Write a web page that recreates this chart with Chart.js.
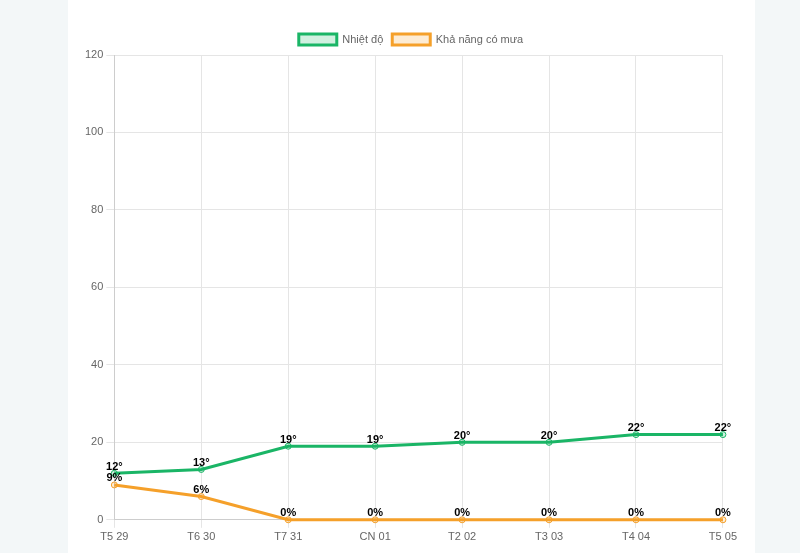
<!DOCTYPE html>
<html>
<head>
<meta charset="utf-8">
<script src="https://cdn.jsdelivr.net/npm/chart.js@4"></script>
<style>
  html, body { margin: 0; padding: 0; background: #f3f7f8; }
  #nen { position: absolute; left: 68px; top: 0; width: 687px; height: 553px; background: #fff; }
  #khung { position: absolute; left: 68px; top: 0; width: 672px; height: 553px; }
</style>
</head>
<body>
<div id="nen"></div>
<div id="khung"><canvas id="bieuDo"></canvas></div>
<script>
const ngay = ['T5 29', 'T6 30', 'T7 31', 'CN 01', 'T2 02', 'T3 03', 'T4 04', 'T5 05'];
const nhiet_do = [12, 13, 19, 19, 20, 20, 22, 22];
const kha_nang_mua = [9, 6, 0, 0, 0, 0, 0, 0];
const nhan_truc_y = [0, 20, 40, 60, 80, 100, 120];

Chart.defaults.font.family = "'Liberation Sans', Arial, sans-serif";
Chart.defaults.font.size = 11;
Chart.defaults.color = '#666';

// ve nhan tren moi diem
const nhanDiem = {
    id: 'nhanDiem',
    afterDatasetsDraw(chart) {
        const ctx = chart.ctx;
        ctx.save();
        ctx.font = "bold 11px 'Liberation Sans', Arial, sans-serif";
        ctx.fillStyle = '#000';
        ctx.textAlign = 'center';
        ctx.textBaseline = 'bottom';
        chart.data.datasets.forEach((ds, i) => {
            const meta = chart.getDatasetMeta(i);
            meta.data.forEach((p, j) => {
                ctx.fillText(ds.data[j] + ds.donVi, p.x, p.y - 1);
            });
        });
        ctx.restore();
    }
};

new Chart(document.getElementById('bieuDo').getContext('2d'), {
    type: 'line',
    data: {
        labels: ngay,
        datasets: [{
            label: 'Nhiệt độ',
            data: nhiet_do,
            donVi: '°',
            borderColor: '#1ab566',
            backgroundColor: 'rgba(26, 181, 102, 0.2)',
            borderWidth: 3,
            pointRadius: 3,
            pointBorderWidth: 1,
            pointBackgroundColor: 'rgba(26, 181, 102, 0.2)',
            tension: 0,
            clip: false
        }, {
            label: 'Khả năng có mưa',
            data: kha_nang_mua,
            donVi: '%',
            borderColor: '#f5a02a',
            backgroundColor: 'rgba(245, 160, 42, 0.2)',
            borderWidth: 3,
            pointRadius: 3,
            pointBorderWidth: 1,
            pointBackgroundColor: 'rgba(245, 160, 42, 0.2)',
            tension: 0,
            clip: false
        }]
    },
    options: {
        responsive: true,
        maintainAspectRatio: false,
        animation: false,
        layout: { padding: { left: 14, right: 0, top: 25, bottom: 6 } },
        plugins: {
            legend: { labels: { boxWidth: 38, boxHeight: 11, padding: 9 } },
            tooltip: { enabled: false }
        },
        scales: {
            x: {
                grid: { color: '#e5e5e5' },
                ticks: { color: '#666' }
            },
            y: {
                min: 0,
                max: 120,
                afterBuildTicks(axis) { axis.ticks = nhan_truc_y.map(v => ({ value: v })); },
                grid: { color: '#e5e5e5' },
                ticks: { color: '#666' }
            }
        }
    },
    plugins: [nhanDiem]
});
</script>
</body>
</html>
